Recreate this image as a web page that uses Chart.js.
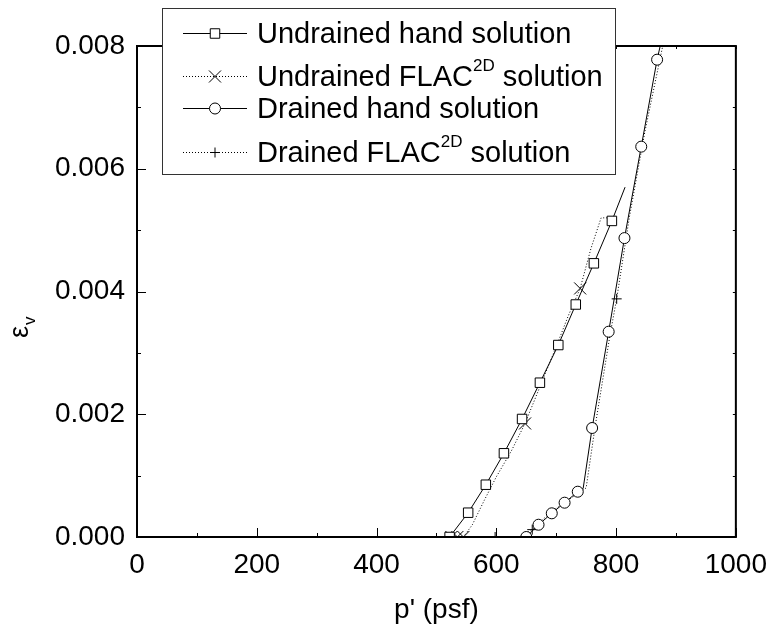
<!DOCTYPE html>
<html>
<head>
<meta charset="utf-8">
<script src="https://cdn.jsdelivr.net/npm/chart.js@4.4.1/dist/chart.umd.min.js"></script>
<style>
  html, body { margin:0; padding:0; background:#fff; }
  #wrap { width:778px; height:631px; position:relative; }
</style>
</head>
<body>
<div id="wrap"><canvas id="c" width="778" height="631"></canvas></div>
<script>
// ── data ──
const xTicks = [0, 200, 400, 600, 800, 1000];
const yTicks = [0, 0.002, 0.004, 0.006, 0.008];

// Undrained hand solution (squares, solid)
const undrHandP = [522, 553, 582.5, 612.7, 643, 672.8, 703.5, 732.7, 762.9, 793, 815];
const undrHandE = [0, 0.000396, 0.000852, 0.001364, 0.001923, 0.002514, 0.003128, 0.003788, 0.004459, 0.00515, 0.0057];
const undrHandMk = [1, 1, 1, 1, 1, 1, 1, 1, 1, 1, 0];

// Undrained FLAC2D solution (crosses, dotted)
const undrFlacP = [525, 535, 545, 560, 580, 600, 625, 648, 675, 700, 720, 740, 758, 775, 792];
const undrFlacE = [0, 0, 0, 0.0002, 0.0006, 0.00098, 0.0014, 0.00185, 0.0025, 0.0031, 0.0036, 0.00405, 0.0047, 0.0052, 0.0052];
const undrFlacMk = [1, 1, 1, 0, 0, 0, 0, 1, 0, 0, 0, 1, 0, 0, 0];

// Drained hand solution (circles, solid)
const drHandP = [650, 670.5, 692.6, 714, 736, 745, 760, 787.6, 814, 842, 868.5, 876];
const drHandE = [0, 0.0002, 0.000386, 0.000559, 0.000738, 0.00079, 0.001776, 0.003345, 0.00487, 0.00636, 0.007777, 0.0081];
const drHandMk = [1, 1, 1, 1, 1, 0, 1, 1, 1, 1, 1, 0];

// Drained FLAC2D solution (plus, dotted)
const drFlacP = [525, 560, 598, 640, 660, 690, 720, 750, 765, 790, 801, 822, 848, 880];
const drFlacE = [0, 0, 0, 0, 0.00012, 0.0004, 0.0006, 0.0008, 0.0018, 0.0033, 0.00388, 0.0052, 0.0066, 0.0081];
const drFlacMk = [0, 0, 1, 0, 1, 0, 0, 0, 0, 0, 1, 0, 0, 0];

const legendRows = [
  { name: 'Undrained hand solution', sup: null, style: 'rect', r: 6.7, dash: [] },
  { name: 'Undrained FLAC', sup: '2D', tail: ' solution', style: 'crossRot', r: 8.5, dash: [1, 2] },
  { name: 'Drained hand solution', sup: null, style: 'circle', r: 5.5, dash: [] },
  { name: 'Drained FLAC', sup: '2D', tail: ' solution', style: 'cross', r: 5, dash: [1, 2] }
];

const FONT = '"Liberation Sans", Arial, sans-serif';

function pts(ps, es) { return ps.map((p, i) => ({ x: p, y: es[i] })); }

function ds(label, ps, es, mk, style, r, dash) {
  return {
    label, data: pts(ps, es),
    borderColor: '#000', borderWidth: 1, borderDash: dash,
    pointStyle: style,
    pointRadius: mk.map(m => m ? r : 0),
    pointHoverRadius: 0,
    pointBackgroundColor: '#fff', pointBorderColor: '#000', pointBorderWidth: 1,
    showLine: true, tension: 0, fill: false
  };
}

// frame + inward ticks
const framePlugin = {
  id: 'frame',
  afterDatasetsDraw(chart) {
    const { ctx, chartArea: a, scales: { x, y } } = chart;
    ctx.save();
    ctx.strokeStyle = '#000';
    ctx.lineWidth = 1;
    for (let v = 0; v <= 1000; v += 100) {
      const px = Math.round(x.getPixelForValue(v)) + 0.5;
      const major = v % 200 === 0;
      ctx.beginPath();
      ctx.moveTo(px, a.bottom); ctx.lineTo(px, a.bottom - (major ? 9 : 4));
      ctx.moveTo(px, a.top); ctx.lineTo(px, a.top + 3);
      ctx.stroke();
    }
    for (let i = 0; i <= 8; i++) {
      const py = Math.round(y.getPixelForValue(i * 0.001)) + 0.5;
      const major = i % 2 === 0;
      ctx.beginPath();
      ctx.moveTo(a.left, py); ctx.lineTo(a.left + (major ? 9 : 4), py);
      ctx.moveTo(a.right, py); ctx.lineTo(a.right - 3, py);
      ctx.stroke();
    }
    ctx.lineWidth = 2;
    ctx.strokeRect(a.left, a.top, a.right - a.left, a.bottom - a.top);

    // y title: ε with subscript v
    ctx.fillStyle = '#000';
    ctx.translate(28, 338);
    ctx.rotate(-Math.PI / 2);
    ctx.textBaseline = 'alphabetic';
    ctx.font = '27px ' + FONT;
    ctx.fillText('\u03b5', 0, 0);
    ctx.font = '17px ' + FONT;
    ctx.fillText('v', 13, 7);
    ctx.restore();
  }
};

// legend with superscripts, drawn over the frame
const legendPlugin = {
  id: 'legendBox',
  afterDraw(chart) {
    const ctx = chart.ctx;
    const bx = 162, by = 8, bw = 453, bh = 166;
    const rowY = [33, 76, 108, 152];
    ctx.save();
    ctx.fillStyle = '#fff';
    ctx.fillRect(bx, by, bw, bh);
    ctx.strokeStyle = '#333';
    ctx.lineWidth = 1;
    ctx.strokeRect(bx + 0.5, by + 0.5, bw, bh);
    legendRows.forEach((row, i) => {
      const cy = rowY[i] + 0.5;
      ctx.strokeStyle = '#000';
      ctx.setLineDash(row.dash);
      ctx.beginPath(); ctx.moveTo(183, cy); ctx.lineTo(247, cy); ctx.stroke();
      ctx.setLineDash([]);
      ctx.fillStyle = '#fff';
      Chart.helpers.drawPoint(ctx, { pointStyle: row.style, radius: row.r, borderWidth: 1 }, 215, cy);
      ctx.fillStyle = '#000';
      ctx.textBaseline = 'middle';
      ctx.font = '29px ' + FONT;
      let tx = 257;
      ctx.fillText(row.name, tx, cy + 1);
      if (row.sup) {
        tx += ctx.measureText(row.name).width;
        ctx.font = '17px ' + FONT;
        ctx.fillText(row.sup, tx, cy - 10);
        tx += ctx.measureText(row.sup).width;
        ctx.font = '29px ' + FONT;
        ctx.fillText(row.tail, tx, cy + 1);
      }
    });
    ctx.restore();
  }
};

new Chart(document.getElementById('c'), {
  type: 'scatter',
  data: {
    datasets: [
      ds('Undrained hand solution', undrHandP, undrHandE, undrHandMk, 'rect', 6.7, []),
      ds('Undrained FLAC2D solution', undrFlacP, undrFlacE, undrFlacMk, 'crossRot', 8.5, [1, 2]),
      ds('Drained hand solution', drHandP, drHandE, drHandMk, 'circle', 5.5, []),
      ds('Drained FLAC2D solution', drFlacP, drFlacE, drFlacMk, 'cross', 5, [1, 2])
    ]
  },
  options: {
    responsive: false,
    animation: false,
    layout: { padding: { top: 46, right: 35, left: 0, bottom: 0 } },
    plugins: { legend: { display: false }, tooltip: { enabled: false } },
    scales: {
      x: {
        type: 'linear', min: 0, max: 1000,
        afterBuildTicks: s => { s.ticks = xTicks.map(v => ({ value: v })); },
        afterFit: s => { s.height = 94; },
        grid: { display: false, drawTicks: false },
        border: { display: false },
        ticks: { color: '#000', font: { family: FONT, size: 28 }, padding: 11, maxRotation: 0, callback: v => String(v) },
        title: { display: true, text: "p' (psf)", color: '#000', font: { family: FONT, size: 28 }, padding: { top: 6 } }
      },
      y: {
        type: 'linear', min: 0, max: 0.008,
        afterBuildTicks: s => { s.ticks = yTicks.map(v => ({ value: v })); },
        afterFit: s => { s.width = 137; },
        grid: { display: false, drawTicks: false },
        border: { display: false },
        ticks: { color: '#000', font: { family: FONT, size: 28 }, padding: 12, callback: v => v.toFixed(3) }
      }
    }
  },
  plugins: [framePlugin, legendPlugin]
});
</script>
</body>
</html>
